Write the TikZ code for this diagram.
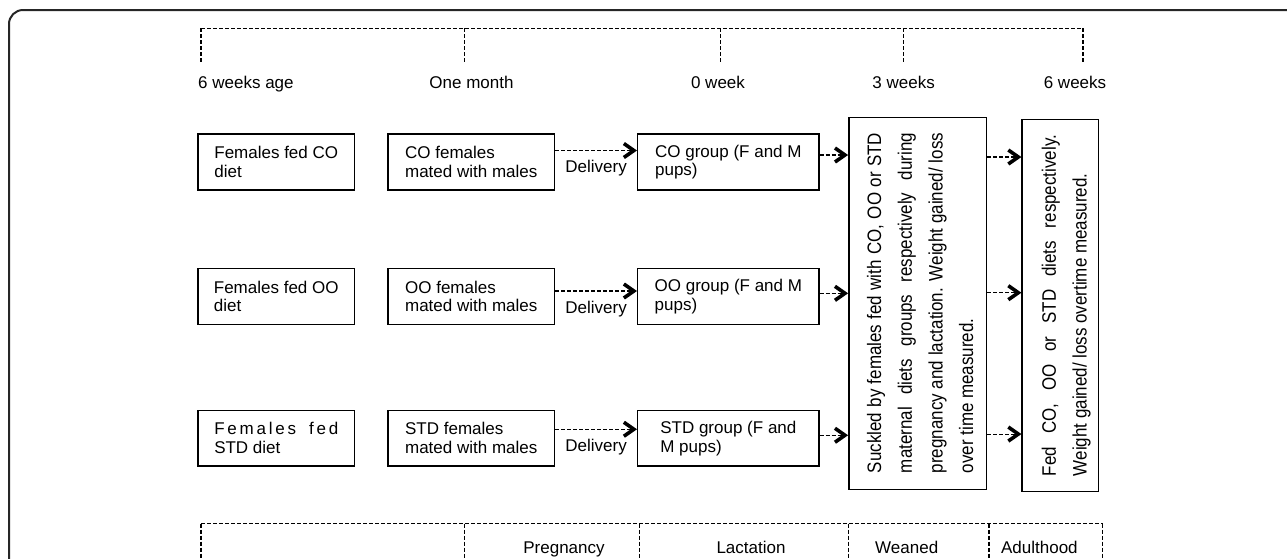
\documentclass[tikz,border=0pt]{standalone}
\usepackage{fontspec}
\usepackage{graphicx}
\setmainfont{Liberation Sans}
\usetikzlibrary{arrows.meta,calc}
\tikzset{
  box/.style={draw=black, line width=1.4pt, align=left, inner sep=0pt, minimum height=56pt},
  tallbox/.style={draw=black, line width=1.4pt, inner sep=0pt, minimum height=372pt},
  dline/.style={line width=1.1pt, dash pattern=on 4pt off 2pt},
  arr/.style={dline, -{Straight Barb[length=10pt, width=14pt, line width=3.6pt]}},
  toplabel/.style={anchor=base, inner sep=0pt},
  vtext/.style={rotate=90, align=left, inner sep=0pt, font=\fontsize{19.5}{30.7}\selectfont},
  deliv/.style={inner sep=0pt, yshift=-18pt}
}
\begin{document}
\begin{tikzpicture}[x=1pt, y=-1pt, font=\fontsize{17}{18.7}\selectfont]
\useasboundingbox (0,0) rectangle (1287,558);
\clip (0,0) rectangle (1287,558);
% outer frame (cropped)
\draw[line width=2pt, rounded corners=14pt, black!85] (9,620) -- (9,10) -- (1330,10);

% top timeline
\coordinate (t0) at (201,28.3);
\coordinate (t1) at (464.5,28.3);
\coordinate (t2) at (720.5,28.3);
\coordinate (t3) at (903.7,28.3);
\coordinate (t4) at (1083,28.3);
\draw[dline] (t0) -- (t4);
\foreach \t in {t0,t1,t2,t3,t4} \draw[dline] (\t) -- ++(0,34.7);

\node[toplabel, anchor=base west] (l0) at (198,88.3) {6 weeks age};
\node[toplabel] (l1) at (471.5,88.3) {One month};
\node[toplabel] (l2) at (718,88.3) {0 week};
\node[toplabel] (l3) at (903.6,88.3) {3 weeks};
\node[toplabel] (l4) at (1075,88.3) {6 weeks};

% row 1
\node[box, minimum width=156.5pt] (A1) at (276.25,162) {Females fed CO\\diet};
\node[box, minimum width=166.5pt] (B1) at (471.25,162) {CO females\\mated with males};
\node[box, minimum width=181.3pt] (C1) at (728.35,162) {CO group (F and M\\pups)};
% row 2
\node[box, minimum width=156.5pt] (A2) at (276.25,296.3) {Females fed OO\\diet};
\node[box, minimum width=166.5pt] (B2) at (471.25,296.3) {OO females\\mated with males};
\node[box, minimum width=181.3pt] (C2) at (728.35,296.3) {OO group (F and M\\pups)};
% row 3
\node[box, minimum width=156.5pt, minimum height=55.5pt] (A3) at (276.25,438.25) {\makebox[124pt][s]{F\hfil e\hfil m\hfil a\hfil l\hfil e\hfil s\hfil\hfil\ \hfil f\hfil e\hfil d}\\STD diet};
\node[box, minimum width=166.5pt, minimum height=55.5pt] (B3) at (471.25,438.25) {STD females\\mated with males};
\node[box, minimum width=181.3pt, minimum height=55.5pt] (C3) at (728.35,438.25) {STD group (F and\\M pups)};

% tall boxes
\node[tallbox, minimum width=137.6pt] (D) at (917.6,303.3) {};
\node[vtext] (Dt) at (921,303) {\scalebox{0.87}[1]{\begin{tabular}{@{}l@{}}\makebox[391pt][s]{Suckled by females fed with CO, OO or STD}\\
\makebox[391pt][s]{maternal diets groups respectively during}\\
\makebox[391pt][s]{pregnancy and lactation. Weight gained/ loss}\\
over time measured.\end{tabular}}};
\node[tallbox, minimum width=76.3pt] (E) at (1060.3,305.3) {};
\node[vtext] (Et) at (1065,305.5) {\scalebox{0.87}[1]{\begin{tabular}{@{}l@{}}\makebox[392pt][s]{Fed CO, OO or STD diets respectively.}\\
Weight gained/ loss overtime measured.\end{tabular}}};

% arrows row 1
\draw[arr] ([yshift=11.5pt]B1.east) -- node[deliv, name=dl1] {Delivery} ([yshift=11.5pt]B1.east -| C1.west);
\draw[arr] ([yshift=7pt]C1.east) -- ([yshift=7pt]C1.east -| D.west);
\draw[arr] ([yshift=5pt]C1.east -| D.east) -- ([yshift=5pt]C1.east -| E.west);
% arrows row 2
\draw[arr] ([yshift=5.3pt]B2.east) -- node[deliv, name=dl2] {Delivery} ([yshift=5.3pt]B2.east -| C2.west);
\draw[arr] ([yshift=3pt]C2.east) -- ([yshift=3pt]C2.east -| D.west);
\draw[arr] ([yshift=3.6pt]C2.east -| D.east) -- ([yshift=3.6pt]C2.east -| E.west);
% arrows row 3
\draw[arr] ([yshift=9pt]B3.east) -- node[deliv, name=dl3] {Delivery} ([yshift=9pt]B3.east -| C3.west);
\draw[arr] ([yshift=3pt]C3.east) -- ([yshift=3pt]C3.east -| D.west);
\draw[arr] ([yshift=4.2pt]C3.east -| D.east) -- ([yshift=4.2pt]C3.east -| E.west);

% bottom phase table (cropped)
\coordinate (p0) at (201,523.5);
\coordinate (p1) at (464.5,523.5);
\coordinate (p2) at (639.5,523.5);
\coordinate (p3) at (848.8,523.5);
\coordinate (p4) at (989,523.5);
\coordinate (p5) at (1102.5,523.5);
\draw[dline] (p0) -- (p5);
\foreach \p in {p0,p1,p2,p3,p4,p5} \draw[dline] (\p) -- ++(0,60);
\node[toplabel] (ph1) at (564,553.3) {Pregnancy};
\node[toplabel] (ph2) at (751,553.3) {Lactation};
\node[toplabel] (ph3) at (906.7,553.3) {Weaned};
\node[toplabel] (ph4) at (1039.4,553.3) {Adulthood};
\end{tikzpicture}
\end{document}
